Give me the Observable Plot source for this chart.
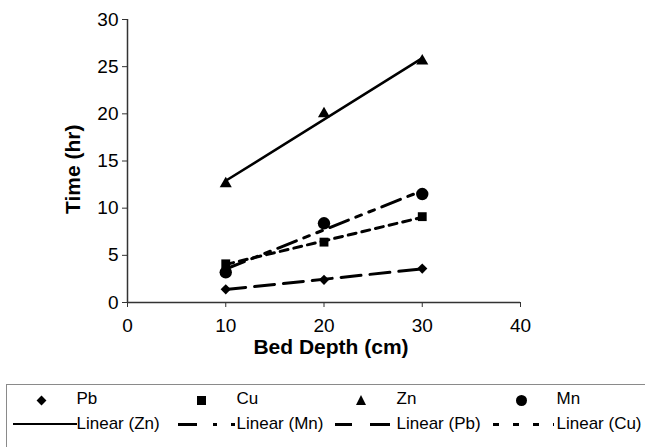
<!DOCTYPE html>
<html>
<head>
<meta charset="utf-8">
<script src="https://cdn.jsdelivr.net/npm/d3@7"></script>
<script src="https://cdn.jsdelivr.net/npm/@observablehq/plot@0.6"></script>
<style>
  html, body { margin: 0; padding: 0; background: #fff; overflow: hidden; }
  #wrap { position: relative; width: 645px; height: 447px; font-family: "Liberation Sans", Arial, sans-serif; }
  #legend { position: absolute; left: 6px; top: 384px; width: 700px; height: 100px; border: 1.5px solid #8a8a8a; box-sizing: border-box; font-size: 17px; color: #000; }
  .lg-item { position: absolute; white-space: nowrap; line-height: 20px; }
  .seg { position: absolute; height: 3px; background: #000; }
</style>
</head>
<body>
<div id="wrap"></div>
<script>
// ---- data ----
const depths = [10, 20, 30];          // Bed depth (cm)
const pb = [1.4, 2.4, 3.6];           // Time (hr)
const cu = [4.1, 6.4, 9.1];
const zn = [12.6, 20.0, 25.6];
const mn = [3.2, 8.4, 11.5];
const seriesNames = ["Pb", "Cu", "Zn", "Mn"];
const trendNames = ["Zn", "Mn", "Pb", "Cu"];
const xTicks = [0, 10, 20, 30, 40];
const yTicks = [0, 5, 10, 15, 20, 25, 30];
const xTitle = "Bed Depth (cm)";
const yTitle = "Time (hr)";

// ---- build table ----
const values = {Pb: pb, Cu: cu, Zn: zn, Mn: mn};
const rows = seriesNames.flatMap(s => depths.map((d, i) => ({series: s, depth: d, time: values[s][i]})));

const symbolOf = {Pb: "diamond2", Cu: "square", Zn: "triangle", Mn: "circle"};
const rOf = {Pb: 4.6, Cu: 5.0, Zn: 4.5, Mn: 6.2};
const dashOf = {Zn: null, Mn: "20,8,6,8,6,8", Pb: "20,9", Cu: "8,6"};

const marks = [];
for (const s of trendNames) {
  marks.push(Plot.linearRegressionY(rows.filter(r => r.series === s), {
    x: "depth", y: "time", stroke: "#000", strokeWidth: s === "Zn" ? 2.5 : 3,
    strokeDasharray: dashOf[s], ci: 0
  }));
}
for (const s of seriesNames) {
  marks.push(Plot.dot(rows.filter(r => r.series === s), {
    x: "depth", y: "time", symbol: () => symbolOf[s], r: rOf[s], fill: "#000", stroke: "none"
  }));
}

const chart = Plot.plot({
  width: 645,
  height: 380,
  marginLeft: 127,
  marginRight: 125,
  marginTop: 19,
  marginBottom: 78,
  style: {fontFamily: "'Liberation Sans', Arial, sans-serif", fontSize: "19px", color: "#000", background: "#fff"},
  x: {domain: [0, 40], ticks: xTicks, label: null},
  y: {domain: [0, 30], ticks: yTicks, label: null},
  symbol: {type: "identity"},
  marks: [
    Plot.axisX({ticks: xTicks, tickSize: 5, tickPadding: 11, label: null, stroke: "#333", fill: "#000"}),
    Plot.axisY({ticks: yTicks, tickSize: 5, tickPadding: 4, label: null, stroke: "#333", fill: "#000"}),
    Plot.ruleX([0], {stroke: "#333", strokeWidth: 1.5}),
    Plot.ruleY([0], {stroke: "#333", strokeWidth: 1.5}),
    ...marks,
    Plot.text([xTitle], {frameAnchor: "bottom", text: d => d, dx: 7, dy: 51, fontWeight: "bold", fontSize: 21, fill: "#000"}),
    Plot.text([yTitle], {frameAnchor: "left", text: d => d, dx: -54, dy: 53, rotate: -90, fontWeight: "bold", fontSize: 21, fill: "#000"})
  ]
});

const wrap = document.getElementById("wrap");
wrap.appendChild(chart);

// ---- legend (HTML below the SVG) ----
const legend = document.createElement("div");
legend.id = "legend";
wrap.appendChild(legend);
const base = 13 - 7.5; // item origin relative to legend box
const step = 160;

function el(cls, css, text) {
  const d = document.createElement("div");
  if (cls) d.className = cls;
  d.style.cssText = css;
  if (text) d.textContent = text;
  legend.appendChild(d);
  return d;
}

const symCss = {
  Pb: "width:7px;height:7px;background:#000;transform:rotate(45deg);",
  Cu: "width:9px;height:9px;background:#000;",
  Zn: "width:0;height:0;border-left:5.5px solid transparent;border-right:5.5px solid transparent;border-bottom:10px solid #000;",
  Mn: "width:11px;height:11px;border-radius:50%;background:#000;"
};
const symSize = {Pb: [7, 7], Cu: [9, 9], Zn: [11, 10], Mn: [11, 11]};
seriesNames.forEach((s, i) => {
  const left = base + step * i;
  const [w, h] = symSize[s];
  el("", `position:absolute;left:${left + 29 - w / 2}px;top:${15 - h / 2}px;` + symCss[s]);
  el("lg-item", `left:${left + 64}px;top:4px;`, s);
});

// legend line swatches: segments [start, end] within a 64px swatch
const swatchSegs = {
  Zn: [[0, 64]],
  Mn: [[5, 24], [40, 44], [58, 62]],
  Pb: [[2, 19], [37, 57]],
  Cu: [[0, 6], [20, 26], [40, 46], [60, 61]]
};
trendNames.forEach((s, i) => {
  const left = base + step * i;
  for (const [a, b] of swatchSegs[s]) {
    el("seg", `left:${left + a}px;width:${b - a}px;top:${39 - (s === "Zn" ? 1 : 1.5)}px;height:${s === "Zn" ? 2 : 3}px;`);
  }
  el("lg-item", `left:${left + 64}px;top:29px;`, `Linear (${s})`);
});
</script>
</body>
</html>
